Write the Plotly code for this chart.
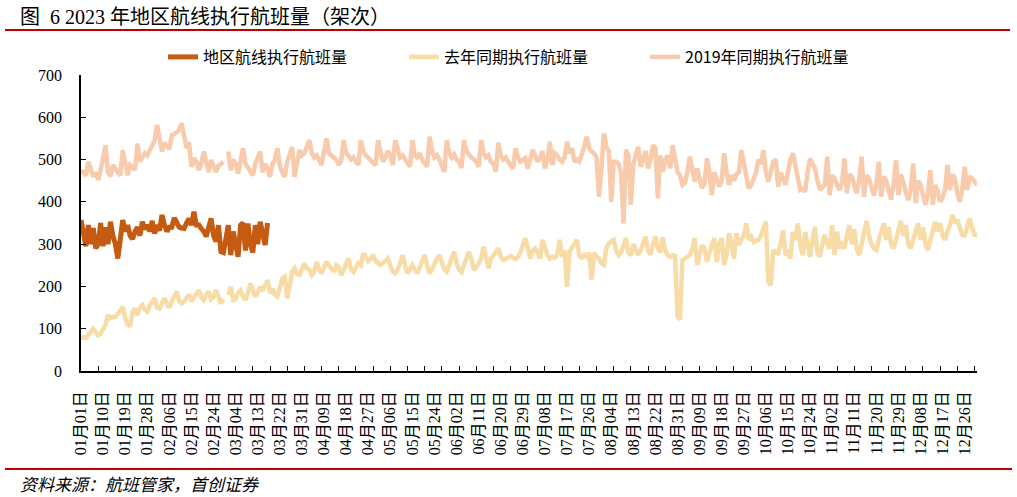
import plotly.graph_objects as go

# ---------------- data ----------------
tick_labels = ["01月01日", "01月10日", "01月19日", "01月28日", "02月06日", "02月15日", "02月24日",
               "03月04日", "03月13日", "03月22日", "03月31日", "04月09日", "04月18日", "04月27日",
               "05月06日", "05月15日", "05月24日", "06月02日", "06月11日", "06月20日", "06月29日",
               "07月08日", "07月17日", "07月26日", "08月04日", "08月13日", "08月22日", "08月31日",
               "09月09日", "09月18日", "09月27日", "10月06日", "10月15日", "10月24日", "11月02日",
               "11月11日", "11月20日", "11月29日", "12月08日", "12月17日", "12月26日"]

series_names = ["地区航线执行航班量", "去年同期执行航班量", "2019年同期执行航班量"]

flights_2023 = [
    357, 330, 295, 345, 300, 338, 290,
    300, 350, 295, 340, 300, 353, 320,
    300, 266, 314, 357, 330, 345, 320,
    312, 330, 340, 320, 353, 335, 345,
    330, 355, 325, 345, 332, 369, 345,
    330, 340, 340, 362, 350, 340, 338,
    337, 350, 360, 345, 377, 345, 345,
    337, 330, 318, 340, 361, 320, 306,
    345, 282, 280, None, 345, 274, 330,
    300, 270, 345, 350, 285, 349, 300,
    280, 345, 300, 353, 330, 298, 350,
]

flights_2022 = [
    77, 80, 78, 85, 95, 100, 92,
    85, 88, 100, 110, 132, 125, 128,
    128, 135, 145, 152, 125, 110, 105,
    140, 148, 132, 150, 156, 145, 140,
    155, 165, 172, 150, 148, 160, 172,
    160, 150, 165, 175, 188, 165, 160,
    165, 175, 180, 165, 175, 180, 191,
    175, 168, 180, 188, 170, 175, 191,
    175, 160, 170, None, 180, 199, 168,
    170, 185, 191, 176, 168, 185, 207,
    190, 176, 185, 199, 190, 200, 215,
    184, 195, 180, 176, 196, 219, 223,
    172, 200, 235, 243, 230, 227, 240,
    254, 243, 240, 227, 235, 258, 240,
    231, 245, 258, 250, 240, 235, 250,
    245, 227, 240, 255, 266, 240, 234,
    245, 255, 250, 278, 270, 260, 265,
    275, 260, 254, 251, 255, 262, 266,
    250, 235, 231, 240, 255, 274, 250,
    231, 240, 250, 240, 231, 245, 260,
    274, 250, 231, 240, 255, 265, 274,
    258, 240, 235, 250, 262, 282, 255,
    240, 234, 250, 265, 282, 265, 239,
    245, 255, 265, 294, 270, 243, 265,
    275, 285, 290, 270, 262, 265, 270,
    272, 268, 265, 270, 280, 298, 314,
    290, 266, 285, 290, 280, 266, 310,
    290, 275, 266, 270, 268, 275, 310,
    270, 285, 199, 282, 290, 300, 310,
    272, 268, 275, 270, 280, 215, 280,
    270, 266, 255, 251, 290, 302, 305,
    310, 285, 274, 280, 295, 314, 280,
    274, 300, 290, 275, 285, 300, 318,
    285, 275, 300, 318, 290, 280, 316,
    285, 274, 270, 274, 272, 130, 121,
    262, 266, 270, 274, 290, 314, 251,
    275, 298, 290, 258, 280, 300, 314,
    258, 300, 314, 251, 275, 326, 300,
    266, 326, 298, 310, 320, 349, 310,
    318, 305, 308, 310, 320, 340, 353,
    210, 203, 286, 280, 278, 300, 333,
    274, 280, 266, 329, 310, 349, 300,
    274, 329, 300, 270, 310, 341, 280,
    270, 300, 322, 300, 290, 345, 274,
    330, 290, 300, 290, 320, 345, 300,
    335, 290, 274, 300, 330, 355, 320,
    300, 290, 286, 310, 330, 349, 310,
    340, 300, 290, 310, 330, 355, 320,
    345, 300, 290, 310, 330, 349, 310,
    340, 300, 286, 310, 330, 353, 330,
    349, 320, 310, 330, 345, 369, 350,
    357, 340, 322, 320, 340, 361, 340,
    322, 322,
]

flights_2019 = [
    475, 470, 462, 495, 480, 460, 470,
    452, 475, 500, 534, 470, 460, 487,
    480, 470, 462, 522, 490, 463, 487,
    480, 476, 538, 495, 505, 515, 510,
    520, 530, 545, 582, 550, 519, 540,
    530, 525, 558, 560, 565, 570, 586,
    560, 527, 541, 483, 503, 495, 475,
    490, 519, 490, 470, 499, 480, 470,
    485, 490, 495, None, 519, 475, 500,
    490, 467, 500, 527, 490, 480, 470,
    463, 490, 505, 519, 470, 490, 480,
    459, 490, 500, 527, 485, 470, 459,
    495, 510, 530, 459, 500, 523, 510,
    515, 530, 546, 515, 505, 510, 500,
    487, 520, 550, 515, 510, 505, 500,
    487, 499, 546, 515, 510, 500, 505,
    495, 487, 546, 520, 510, 505, 500,
    495, 487, 546, 515, 495, 505, 520,
    510, 487, 546, 520, 505, 510, 500,
    495, 483, 546, 510, 505, 515, 500,
    490, 483, 554, 520, 505, 510, 500,
    487, 471, 546, 515, 505, 512, 500,
    495, 480, 546, 520, 510, 505, 500,
    495, 483, 546, 515, 505, 510, 495,
    490, 471, 540, 510, 500, 505, 495,
    487, 479, 527, 505, 495, 500, 503,
    479, 500, 523, 510, 495, 505, 520,
    479, 500, 542, 487, 515, 510, 500,
    495, 505, 542, 515, 527, 495, 500,
    495, 510, 530, 554, 527, 520, 515,
    505, 412, 480, 562, 530, 520, 400,
    495, 495, 490, 470, 349, 523, 510,
    393, 490, 510, 530, 483, 500, 520,
    479, 500, 534, 527, 408, 510, 471,
    500, 510, 479, 534, 500, 470, 463,
    440, 445, 470, 507, 470, 448, 479,
    455, 432, 445, 503, 470, 416, 470,
    455, 436, 450, 515, 470, 440, 463,
    450, 465, 470, 522, 490, 471, 432,
    440, 459, 470, 500, 490, 522, 470,
    448, 470, 495, 500, 436, 470, 455,
    440, 470, 500, 515, 483, 460, 428,
    430, 424, 470, 503, 490, 479, 450,
    428, 435, 440, 507, 416, 463, 455,
    440, 428, 445, 503, 420, 465, 460,
    435, 420, 450, 507, 412, 463, 455,
    430, 415, 440, 495, 412, 460, 450,
    425, 405, 440, 499, 416, 465, 445,
    420, 404, 430, 491, 397, 450, 440,
    415, 393, 420, 475, 393, 440, 425,
    400, 410, 430, 487, 428, 465, 455,
    420, 400, 430, 483, 428, 460, 455,
    445, 440,
]

colors = ["#C55A11", "#F8DCA8", "#F8CBAD"]

# ---------------- layout geometry ----------------
W, H = 1017, 497
L, R, T, B = 81, 977, 75, 371


def px(x):
    return (x - L) / (R - L)


def py(y):
    return (B - y) / (B - T)


n_days = len(flights_2019)
days_2023 = list(range(len(flights_2023)))
days_all = list(range(n_days))

serif = "Liberation Serif, 'Noto Sans CJK SC', serif"
cjk = "'Noto Sans CJK SC', sans-serif"

fig = go.Figure()
fig.add_trace(go.Scatter(x=days_2023, y=flights_2023, name=series_names[0], mode="lines",
                         line=dict(color=colors[0], width=5), connectgaps=True))
fig.add_trace(go.Scatter(x=days_all, y=flights_2022, name=series_names[1], mode="lines",
                         line=dict(color=colors[1], width=4.5), connectgaps=False))
fig.add_trace(go.Scatter(x=days_all, y=flights_2019, name=series_names[2], mode="lines",
                         line=dict(color=colors[2], width=4.5), connectgaps=False))
# carrier for the label axis
fig.add_trace(go.Scatter(x=[0, n_days - 1], y=[None, None], xaxis="x2", mode="lines",
                         showlegend=False, hoverinfo="skip"))

label_vals = list(range(0, n_days, 9))[:len(tick_labels)]

fig.update_layout(
    width=W, height=H,
    margin=dict(l=L, r=W - R, t=T, b=H - B, pad=0),
    paper_bgcolor="white", plot_bgcolor="white",
    showlegend=True,
    legend=dict(orientation="h", x=px(163), y=py(57), xanchor="left", yanchor="middle",
                entrywidth=196, entrywidthmode="pixels",
                font=dict(family=cjk, size=16, color="#000000"),
                bgcolor="rgba(0,0,0,0)", itemwidth=30),
    xaxis=dict(range=[0, n_days - 1], tickmode="array", tickvals=list(range(0, n_days, 7)),
               ticks="inside", ticklen=5, tickcolor="black", tickwidth=1,
               showticklabels=False, showline=True, linecolor="black", linewidth=1.5,
               showgrid=False, zeroline=False),
    xaxis2=dict(range=[0, n_days - 1], overlaying="x", anchor="y", side="bottom",
                tickmode="array", tickvals=label_vals, ticktext=tick_labels,
                tickangle=-90, ticks="", showline=False, showgrid=False, zeroline=False,
                tickfont=dict(family=serif, size=16, color="black"), ticklabelstandoff=16),
    yaxis=dict(range=[0, 700], tickmode="array", tickvals=list(range(0, 701, 100)),
               ticks="inside", ticklen=5, tickcolor="black", tickwidth=1,
               showline=True, linecolor="black", linewidth=1.5, showgrid=False, zeroline=False,
               tickfont=dict(family=serif, size=16, color="black"), ticklabelstandoff=14),
    annotations=[
        dict(text="图  6 2023 年地区航线执行航班量（架次）", x=px(18), y=py(17),
             xref="paper", yref="paper", xanchor="left", yanchor="middle", showarrow=False,
             font=dict(family=serif, size=20, color="black")),
        dict(text="<i>资料来源：航班管家，首创证券</i>", x=px(18), y=py(483),
             xref="paper", yref="paper", xanchor="left", yanchor="middle", showarrow=False,
             font=dict(family=cjk, size=17, color="black")),
    ],
    shapes=[
        dict(type="line", xref="paper", yref="paper", x0=px(5), x1=px(1010), y0=py(30), y1=py(30),
             line=dict(color="#C00000", width=2)),
        dict(type="line", xref="paper", yref="paper", x0=px(5), x1=px(1012), y0=py(469), y1=py(469),
             line=dict(color="#C00000", width=2)),
    ],
)

fig.write_html("out.html")
